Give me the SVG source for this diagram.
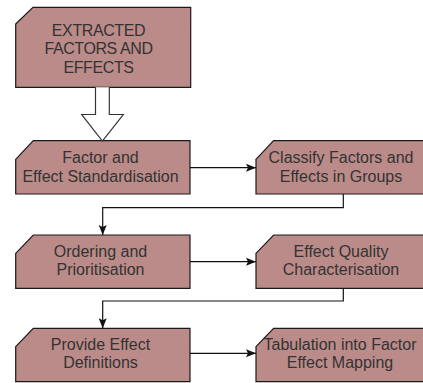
<svg xmlns="http://www.w3.org/2000/svg" width="423" height="383" viewBox="0 0 423 383">
<style>
.box{fill:#bb8b89;stroke:#1a1a1a;stroke-width:1.2}
.t{font-family:"Liberation Sans",Arial,Helvetica,sans-serif;font-size:16px;fill:#333;text-anchor:middle}
.u{letter-spacing:-0.4px}
.c{fill:none;stroke:#111;stroke-width:1.2}
</style>
<defs>
<marker id="ah" viewBox="0 0 10 10" refX="10" refY="5" markerWidth="10" markerHeight="10" markerUnits="userSpaceOnUse" orient="auto">
<path d="M0,1 L10,5 L0,9 L2,5 Z" fill="#111"/>
</marker>
</defs>
<rect width="423" height="383" fill="#fff"/>
<g id="n1">
<path class="box" d="M15.7,24 L33,7.3 H190.7 V87.3 H15.7 Z"/>
<text class="t u" x="98.5" y="35.5">EXTRACTED</text>
<text class="t u" x="98.5" y="54.3">FACTORS AND</text>
<text class="t u" x="98.5" y="73">EFFECTS</text>
</g>
<g id="n2">
<path class="box" d="M15.7,159.3 L33.3,140.7 H190 V194 H15.7 Z"/>
<text class="t" x="100.5" y="163.3">Factor and</text>
<text class="t" x="100.5" y="181.7">Effect Standardisation</text>
</g>
<g id="n3">
<path class="box" d="M256,159.3 L273.6,140.7 H430.5 V194 H256 Z"/>
<text class="t" x="341" y="163.3">Classify Factors and</text>
<text class="t" x="341" y="181.7">Effects in Groups</text>
</g>
<g id="n4">
<path class="box" d="M15.7,253.3 L33.3,235 H190 V288.3 H15.7 Z"/>
<text class="t" x="100.5" y="256.7">Ordering and</text>
<text class="t" x="100.5" y="275">Prioritisation</text>
</g>
<g id="n5">
<path class="box" d="M256,253.3 L273.6,235 H430.5 V288.3 H256 Z"/>
<text class="t" x="341" y="256.7">Effect Quality</text>
<text class="t" x="341" y="275">Characterisation</text>
</g>
<g id="n6">
<path class="box" d="M15.7,346.6 L33.3,328.3 H190 V381.7 H15.7 Z"/>
<text class="t" x="100.5" y="350">Provide Effect</text>
<text class="t" x="100.5" y="368.3">Definitions</text>
</g>
<g id="n7">
<path class="box" d="M256,346.6 L273.6,328.3 H430.5 V381.7 H256 Z"/>
<text class="t" x="340" y="350">Tabulation into Factor</text>
<text class="t" x="340" y="368.3">Effect Mapping</text>
</g>
<g id="connectors">
<path d="M95.5,87.3 V114.5 H81.7 L102.4,141 L123.3,114.5 H109.3 V87.3" fill="#fff" stroke="#333" stroke-width="1.2"/>
<path class="c" d="M190,167.7 H256" marker-end="url(#ah)"/>
<path class="c" d="M343.3,194 V207.7 H102.7 V235" marker-end="url(#ah)"/>
<path class="c" d="M190,261.7 H256" marker-end="url(#ah)"/>
<path class="c" d="M343.3,288.3 V301 H102.7 V328.3" marker-end="url(#ah)"/>
<path class="c" d="M190,353.3 H256" marker-end="url(#ah)"/>
</g>
</svg>
